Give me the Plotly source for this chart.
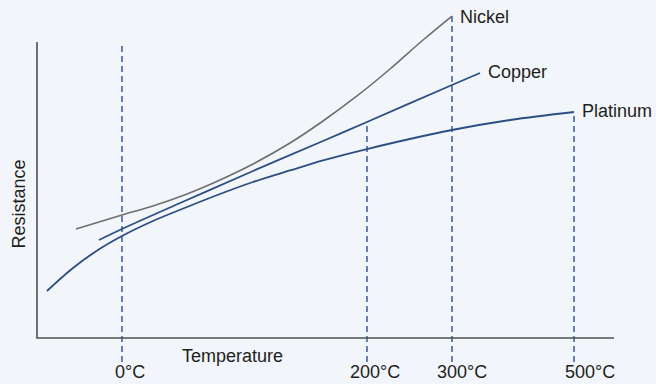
import plotly.graph_objects as go

# Axis units: x 0..100 spans the drawn temperature axis, y 0..100 spans the resistance axis
tick_pos = [14.73, 57.19, 71.92, 93.07]
tick_labels = ["0°C", "200°C", "300°C", "500°C"]

nickel_x = [6.76, 14.73, 20.10, 26.00, 31.72, 37.44, 43.85, 49.57, 55.46, 61.18, 66.90, 71.92]
nickel_y = [36.82, 41.55, 44.59, 48.65, 53.38, 58.78, 65.88, 73.31, 81.76, 90.88, 100.68, 108.78]

copper_x = [10.75, 14.73, 26.00, 37.44, 49.57, 57.19, 71.92, 76.78]
copper_y = [33.11, 36.82, 46.62, 56.42, 66.55, 72.97, 85.47, 89.53]

platinum_x = [1.73, 6.24, 10.57, 14.73, 20.10, 26.00, 31.72, 37.44, 43.85, 49.57, 57.19, 71.92, 81.98, 93.07]
platinum_y = [15.88, 23.65, 29.73, 34.46, 39.53, 44.26, 48.65, 52.70, 56.60, 60.00, 63.85, 70.27, 73.65, 76.35]

# top ends of the dashed guide lines (axis top / where they meet the curves)
guide_top = [100.0, 72.97, 108.78, 76.35]
guide_bottom = -8.1

series_names = ["Nickel", "Copper", "Platinum"]
label_pos = [(72.96, 108.4), (77.8, 89.9), (94.1, 76.7)]

BG = "#f2f5f9"
BLUE = "#2b4f82"
GRAY = "#6e6e6e"
DASH = "#3a5a98"
AXIS = "#505050"
TXT = "#1e1e1e"
FONT = "Liberation Sans, Arial, sans-serif"
FS = 18

fig = go.Figure()

for xp, yt in zip(tick_pos, guide_top):
    fig.add_trace(go.Scatter(x=[xp, xp], y=[guide_bottom, yt], mode="lines",
                             line=dict(color=DASH, width=1.5, dash="6px,4px"),
                             hoverinfo="skip", showlegend=False))

fig.add_trace(go.Scatter(x=[0, 0, 100], y=[100, 0, 0], mode="lines",
                         line=dict(color=AXIS, width=1.6), hoverinfo="skip", showlegend=False))

fig.add_trace(go.Scatter(x=nickel_x, y=nickel_y, mode="lines", name="Nickel",
                         line=dict(color=GRAY, width=1.6, shape="spline", smoothing=1.0)))
fig.add_trace(go.Scatter(x=copper_x, y=copper_y, mode="lines", name="Copper",
                         line=dict(color=BLUE, width=1.8, shape="spline", smoothing=1.0)))
fig.add_trace(go.Scatter(x=platinum_x, y=platinum_y, mode="lines", name="Platinum",
                         line=dict(color=BLUE, width=1.8, shape="spline", smoothing=1.0)))

ann = []
for name, (lx, ly) in zip(series_names, label_pos):
    ann.append(dict(x=lx, y=ly, text=name, showarrow=False, xanchor="left", yanchor="middle",
                    font=dict(family=FONT, size=FS, color=TXT)))

tick_shift = [8, 8, 10, 16]
for xp, t, s in zip(tick_pos, tick_labels, tick_shift):
    ann.append(dict(x=xp, y=-11.6, text=t, showarrow=False, xanchor="center", yanchor="middle",
                    xshift=s, font=dict(family=FONT, size=FS, color=TXT)))

ann.append(dict(x=33.8, y=-6.1, text="Temperature", showarrow=False, xanchor="center",
                yanchor="middle", font=dict(family=FONT, size=FS, color=TXT)))
ann.append(dict(x=-3.2, y=45.3, text="Resistance", showarrow=False, textangle=-90,
                xanchor="center", yanchor="middle", font=dict(family=FONT, size=FS, color=TXT)))

fig.update_layout(
    width=656, height=384,
    margin=dict(l=0, r=0, t=0, b=0),
    paper_bgcolor=BG, plot_bgcolor=BG,
    xaxis=dict(range=[-6.41, 107.28], visible=False, fixedrange=True),
    yaxis=dict(range=[-15.54, 114.19], visible=False, fixedrange=True),
    annotations=ann,
    showlegend=False,
)

fig.write_html(
    "out.html",
    config={"displayModeBar": False},
    post_script="document.body.style.margin='0';document.body.style.background='#f2f5f9';"
                "document.documentElement.style.overflow='hidden';",
)
